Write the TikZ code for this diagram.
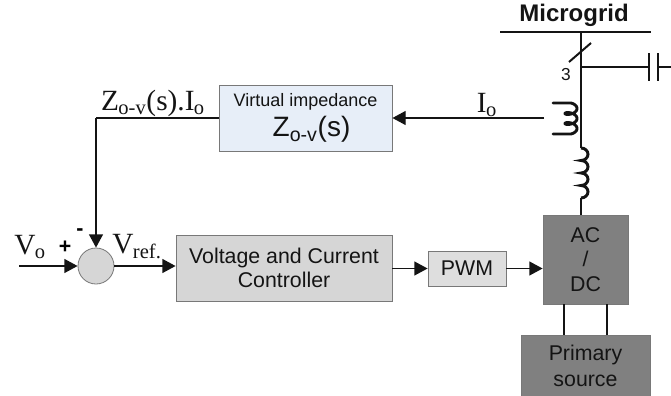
\documentclass[tikz,border=0pt]{standalone}
\usepackage{fontspec}
\setmainfont{Liberation Sans}
\newfontfamily\labelfont{Liberation Serif}
\usetikzlibrary{arrows.meta}
\definecolor{lightblue}{RGB}{231,238,248}
\definecolor{midgray}{RGB}{214,214,214}
\definecolor{pwmgray}{RGB}{222,222,222}
\definecolor{darkgray}{RGB}{128,128,128}
\definecolor{boxedge}{RGB}{120,120,120}
\definecolor{wire}{RGB}{20,20,20}
\tikzset{
  blockbox/.style={draw=boxedge,line width=.6pt,minimum width=#1,inner sep=0pt,align=center,text=wire},
  signal/.style={draw=wire,line width=1.1pt,-{Triangle[length=10pt,width=10.5pt]}},
  plainline/.style={draw=wire,line width=1.1pt},
  power/.style={draw=wire,line width=2.2pt},
  serif/.style={font=\labelfont\fontsize{22}{22}\selectfont,inner sep=0pt,text=wire}
}
\newcommand{\lab}[2]{#1\textsubscript{\kern-.5pt#2}}
\begin{document}
\begin{tikzpicture}[x=.75pt,y=-.75pt]
  \useasboundingbox (0,0) rectangle (671,396);
  % blocks
  \node[blockbox=129.75pt,fill=lightblue,minimum height=49.5pt,font=\fontsize{13.5}{23}\selectfont] (impedance) at (305.5,118) {Virtual impedance\\ {\fontsize{21}{23}\selectfont\hspace*{9pt}Z\textsubscript{o-v}(s)}};
  \node[blockbox=162pt,fill=midgray,minimum height=49.5pt,font=\fontsize{16}{18.5}\selectfont] (controller) at (284,268) {Voltage and Current\\ Controller};
  \node[blockbox=58.5pt,fill=pwmgray,minimum height=26.25pt,font=\fontsize{16}{19}\selectfont] (pwm) at (467,268.5) {PWM};
  \node[blockbox=63.75pt,fill=darkgray,minimum height=66.75pt,font=\fontsize{16}{18.5}\selectfont] (acdc) at (585.5,259.5) {AC\\ /\\ DC};
  \node[blockbox=96.75pt,fill=darkgray,minimum height=45.75pt,anchor=north,font=\fontsize{16}{19.5}\selectfont] (source) at (585.5,335) {Primary\\ source};
  \node[circle,draw=boxedge,fill=midgray,line width=.6pt,minimum size=27pt,inner sep=0pt] (sum) at (96,266) {};
  % free ends
  \coordinate (busL) at (500,32);
  \coordinate (busR) at (651,32);
  \coordinate (busT) at (581,32);
  \coordinate (tee) at (581,67);
  \coordinate (coilT) at (581,148);
  \coordinate (coilB) at (581,198);
  \coordinate (capL) at (649,67);
  \coordinate (capR) at (658,67);
  \coordinate (capEnd) at (671,67);
  \coordinate (sense) at (544,118);
  \coordinate (corner) at (96,118);
  \coordinate (input) at (19,266);
  % signal path
  \draw[plainline] (impedance.west |- corner) -- (corner);
  \draw[signal] (corner) -- (sum.north);
  \draw[signal] (input) -- (sum.west);
  \draw[signal] (sum.east) -- (controller.west |- sum.east);
  \draw[signal] (controller.east |- pwm.west) -- (pwm.west);
  \draw[signal] (pwm.east) -- (acdc.west |- pwm.east);
  \draw[signal] (sense) -- (impedance.east |- sense);
  % power path
  \draw[power] (busL) -- (busR);
  \draw[power] (busT) -- (coilT);
  \draw[power] (coilB) -- (acdc.north -| coilB);
  \draw[power,line width=1.5pt] (569,62) -- (591,43);
  \draw[power,line width=1.5pt] (tee) -- (capL);
  \draw[power] (649,53) -- (649,81);
  \draw[power] (658,53) -- (658,81);
  \draw[power,line width=1.5pt] (capR) -- (capEnd);
  \draw[power] (coilT) foreach \i in {0,1,2,3} {
    arc[start angle=-90,end angle=90,x radius=7,y radius=6.25]};
  \draw[power,line cap=round] (553,103) -- (571,103)
    -- plot[domain=0:900,samples=120,smooth] ({571+6*sin(\x)},{106+\x/36-3*cos(\x)})
    -- (553,134);
  \draw[power] (564,304) -- (564,335);
  \draw[power] (607,304) -- (607,335);
  % labels
  \node[font=\bfseries\fontsize{18}{20}\selectfont,text=wire,inner sep=0pt] (title) at (574,15) {Microgrid};
  \node[font=\fontsize{13}{15}\selectfont,text=wire,inner sep=0pt] (three) at (566,75) {3};
  \node[serif] (zlabel) at (153,103) {\lab{Z}{o-v}(s).\lab{I}{o}};
  \node[serif] (ilabel) at (487,105) {\lab{I}{o}};
  \node[serif] (vin) at (30,247) {\lab{V}{o}};
  \node[serif] (vref) at (137,247) {\lab{V}{ref.}};
  \node[font=\bfseries\fontsize{16}{16}\selectfont,inner sep=0pt] (plus) at (65,247) {+};
  \node[font=\bfseries\fontsize{16}{16}\selectfont,inner sep=0pt] (minus) at (80,232) {-};
\end{tikzpicture}
\end{document}
